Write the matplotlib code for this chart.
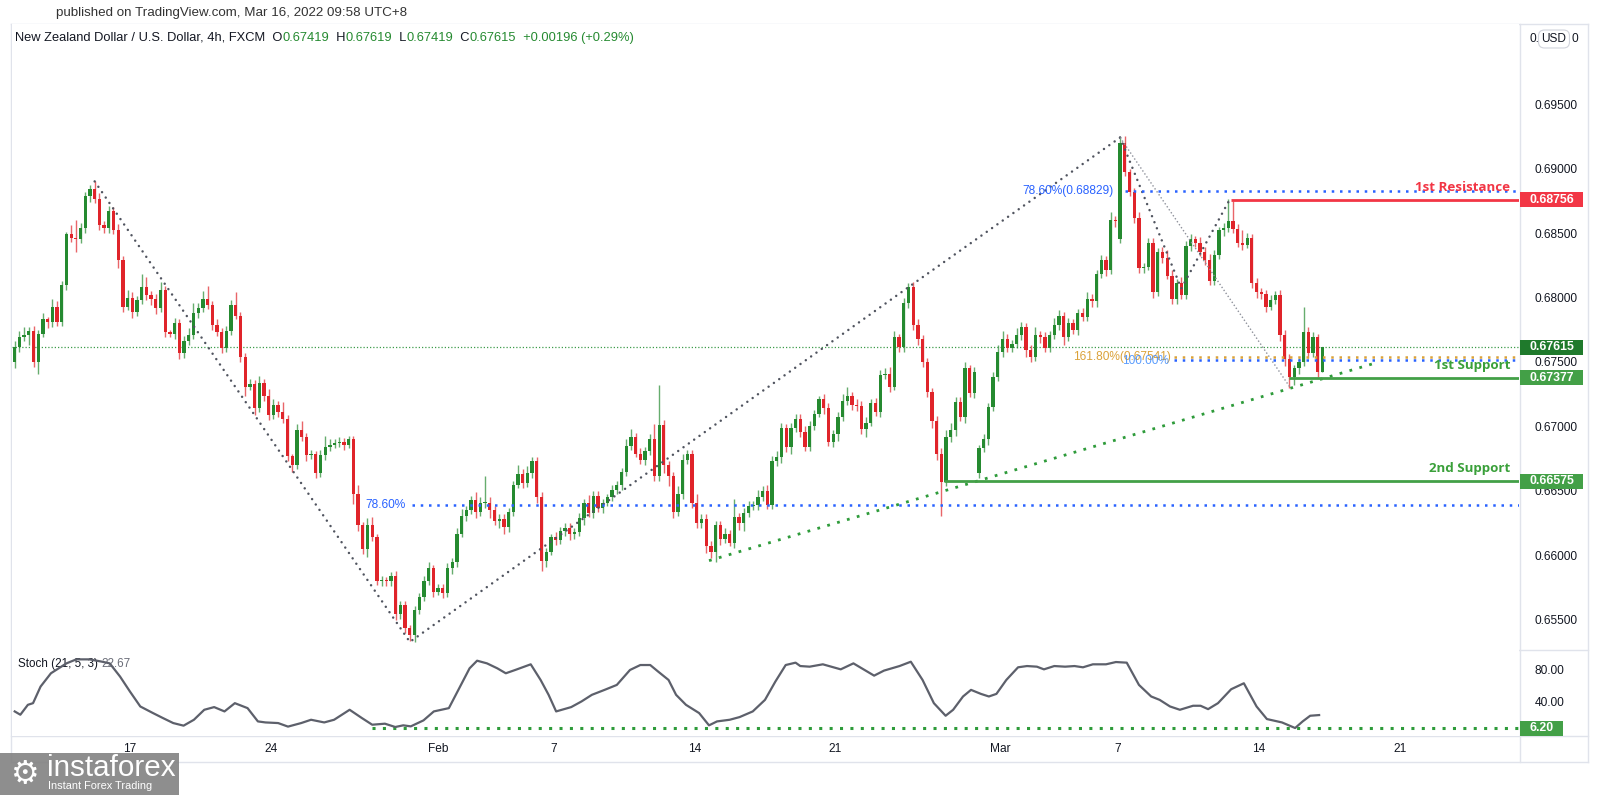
import numpy as np
import matplotlib.pyplot as plt
from matplotlib.lines import Line2D
from matplotlib.patches import Rectangle
import matplotlib.transforms as mtransforms

W, H = 1600, 795
SANS = 'Liberation Sans'
BOLD = 'Open Sans'
plt.rcParams['font.family'] = [SANS, 'DejaVu Sans']

# ---- data (4h candles, NZDUSD, FXCM) ----
closes = [
    0.6762, 0.6769, 0.6771, 0.6774, 0.6750, 0.6772, 0.6783, 0.6781, 0.6793, 0.6781,
    0.6810, 0.6849, 0.6846, 0.6845, 0.6854, 0.6879, 0.6884, 0.6876, 0.6856, 0.6854,
    0.6867, 0.6852, 0.6829, 0.6793, 0.6800, 0.6789, 0.6798, 0.6808, 0.6802, 0.6799,
    0.6792, 0.6806, 0.6773, 0.6772, 0.6780, 0.6757, 0.6766, 0.6771, 0.6788, 0.6792,
    0.6799, 0.6794, 0.6779, 0.6773, 0.6761, 0.6774, 0.6794, 0.6786, 0.6754, 0.6731,
    0.6733, 0.6714, 0.6734, 0.6724, 0.6709, 0.6717, 0.6711, 0.6706, 0.6677, 0.6670,
    0.6697, 0.6692, 0.6678, 0.6679, 0.6664, 0.6678, 0.6684, 0.6686, 0.6687, 0.6688,
    0.6686, 0.6690, 0.6648, 0.6624, 0.6605, 0.6624, 0.6614, 0.6580, 0.6581, 0.6580,
    0.6584, 0.6555, 0.6562, 0.6544, 0.6538, 0.6558, 0.6568, 0.6580, 0.6590, 0.6572,
    0.6575, 0.6571, 0.6590, 0.6595, 0.6617, 0.6631, 0.6635, 0.6643, 0.6634, 0.6641,
    0.6641, 0.6635, 0.6627, 0.6628, 0.6622, 0.6634, 0.6655, 0.6663, 0.6656, 0.6664,
    0.6673, 0.6645, 0.6596, 0.6603, 0.6614, 0.6612, 0.6619, 0.6621, 0.6617, 0.6618,
    0.6629, 0.6641, 0.6633, 0.6646, 0.6637, 0.6641, 0.6645, 0.6651, 0.6655, 0.6665,
    0.6685, 0.6692, 0.6679, 0.6674, 0.6681, 0.6690, 0.6662, 0.6701, 0.6670, 0.6662,
    0.6634, 0.6648, 0.6674, 0.6679, 0.6641, 0.6625, 0.6628, 0.6607, 0.6603, 0.6624,
    0.6613, 0.6617, 0.6610, 0.6630, 0.6625, 0.6633, 0.6638, 0.6639, 0.6645, 0.6650,
    0.6639, 0.6673, 0.6676, 0.6699, 0.6684, 0.6699, 0.6706, 0.6696, 0.6684, 0.6700,
    0.6710, 0.6721, 0.6714, 0.6688, 0.6694, 0.6707, 0.6720, 0.6724, 0.6717, 0.6716,
    0.6698, 0.6703, 0.6718, 0.6711, 0.6740, 0.6741, 0.6731, 0.6769, 0.6762, 0.6796,
    0.6808, 0.6779, 0.6768, 0.6750, 0.6727, 0.6704, 0.6679, 0.6657, 0.6692, 0.6697,
    0.6719, 0.6707, 0.6745, 0.6726, 0.6742, 0.6683, 0.6690, 0.6715, 0.6738, 0.6758,
    0.6768, 0.6761, 0.6764, 0.6771, 0.6777, 0.6759, 0.6754, 0.6771, 0.6769, 0.6761,
    0.6771, 0.6779, 0.6786, 0.6769, 0.6780, 0.6775, 0.6788, 0.6785, 0.6799, 0.6797,
    0.6818, 0.6829, 0.6821, 0.6860, 0.6859, 0.6920, 0.6897, 0.6882, 0.6862, 0.6823,
    0.6824, 0.6842, 0.6804, 0.6835, 0.6831, 0.6817, 0.6799, 0.6811, 0.6802, 0.6840,
    0.6845, 0.6842, 0.6835, 0.6829, 0.6813, 0.6833, 0.6852, 0.6854, 0.6859, 0.6853,
    0.6842, 0.6841, 0.6846, 0.6811, 0.6804, 0.6803, 0.6793, 0.6798, 0.6802, 0.6771,
    0.6752, 0.6738, 0.6745, 0.6750, 0.6773, 0.6757, 0.6769, 0.6742, 0.67615,
]
# wick lengths in pips above / below the body
up_wick = [
    4, 5, 6, 3, 4, 3, 5, 2, 6, 4,   3, 2, 7, 14, 4, 3, 3, 6, 5, 3,
    4, 3, 5, 3, 6, 4, 3, 10, 8, 3,  4, 6, 3, 2, 4, 3, 4, 5, 8, 4,
    6, 10, 3, 4, 3, 4, 4, 10, 3, 3, 4, 3, 5, 3, 5, 4, 3, 8, 3, 2,
    5, 7, 3, 3, 2, 4, 9, 4, 3, 4,   3, 3, 3, 7, 2, 5, 6, 3, 3, 2,
    3, 4, 3, 3, 2, 3, 3, 4, 5, 3,   3, 3, 4, 3, 4, 5, 3, 3, 6, 4,
    21, 4, 3, 4, 4, 3, 3, 7, 4, 5,  3, 3, 4, 3, 3, 4, 3, 4, 4, 3,
    4, 3, 6, 4, 4, 3, 3, 4, 3, 3,   5, 6, 3, 4, 3, 4, 12, 31, 4, 3,
    3, 6, 5, 3, 3, 7, 4, 4, 4, 3,   3, 4, 3, 14, 3, 4, 4, 3, 6, 4,
    5, 4, 5, 4, 3, 4, 4, 4, 4, 4,   3, 3, 4, 4, 3, 4, 5, 7, 3, 4,
    4, 4, 3, 4, 4, 4, 5, 5, 3, 4,   3, 4, 4, 3, 3, 3, 4, 4, 5, 6,
    4, 4, 5, 3, 4, 3, 4, 3, 4, 5,   6, 4, 3, 5, 4, 3, 4, 6, 3, 4,
    3, 5, 4, 3, 4, 3, 3, 4, 5, 4,   3, 4, 3, 6, 3, 4, 5, 3, 3, 4,
    3, 4, 4, 3, 4, 6, 4, 3, 5, 4,   4, 3, 5, 4, 5, 4, 3, 4, 17, 16,
    4, 10, 4, 3, 4, 3, 3, 4, 3, 4,  4, 4, 3, 3, 20, 4, 4, 3, 0,
]
low_wick = [
    5, 4, 3, 8, 4, 9, 3, 5, 4, 3,   3, 4, 3, 10, 3, 4, 5, 3, 4, 4,
    4, 3, 6, 4, 3, 5, 3, 3, 4, 5,   5, 3, 4, 3, 4, 5, 4, 3, 3, 4,
    3, 3, 4, 3, 4, 3, 3, 3, 4, 7,   3, 5, 3, 4, 4, 3, 4, 3, 4, 5,
    3, 3, 5, 3, 4, 3, 4, 3, 3, 3,   4, 3, 8, 5, 4, 6, 3, 3, 4, 4,
    4, 5, 4, 4, 4, 5, 3, 3, 3, 4,   3, 4, 3, 4, 4, 3, 4, 3, 5, 3,
    4, 6, 3, 6, 5, 4, 3, 3, 4, 3,   4, 4, 8, 5, 3, 4, 3, 4, 5, 4,
    3, 5, 3, 4, 3, 4, 3, 3, 3, 4,   3, 3, 3, 3, 4, 3, 4, 4, 6, 8,
    5, 3, 4, 3, 4, 4, 4, 5, 5, 8,   5, 3, 3, 4, 5, 6, 3, 3, 4, 3,
    3, 3, 4, 4, 4, 5, 3, 4, 3, 3,   3, 3, 4, 3, 4, 5, 3, 3, 4, 4,
    4, 6, 3, 3, 4, 3, 4, 3, 4, 4,   4, 4, 5, 4, 4, 5, 5, 26, 3, 4,
    4, 3, 4, 3, 4, 4, 3, 4, 3, 3,   4, 3, 3, 3, 4, 5, 4, 3, 4, 3,
    3, 3, 4, 6, 3, 3, 4, 3, 3, 4,   4, 3, 4, 3, 4, 3, 3, 3, 4, 4,
    4, 3, 4, 3, 4, 3, 4, 4, 3, 3,   4, 3, 3, 4, 3, 3, 3, 4, 3, 3,
    3, 4, 3, 4, 4, 4, 4, 3, 3, 5,   5, 8, 6, 4, 3, 4, 3, 4, 0,
]
gap_opens = {0: 0.6750, 205: 0.6664, 235: 0.6845}

stoch_idx = [0, 1.2, 2.8, 3.9, 5.5, 7.7, 11, 13.1, 15.9, 18.6, 20.2, 22.4, 24.5, 26.7,
             29.4, 31.5, 33.7, 35.9, 38.1, 40.3, 42.4, 44.6, 46.8, 49.5, 51.7, 53.3,
             56, 58.1, 60.9, 63, 65.8, 67.9, 71.2, 73.8, 76, 78.7, 80.9, 82.6, 84.2,
             86.9, 89.1, 92.3, 94.5, 96.7, 98.3, 100.4, 102.6, 104.4, 106.4, 109.7,
             111.8, 113.5, 115.1, 118.3, 120.5, 122.7, 125.4, 128, 130.8, 133, 135.1,
             136.8, 139, 140.6, 142.7, 145.5, 147.6, 149.3, 152, 154.1, 156.9, 159.5,
             161.7, 163.9, 166, 167, 169, 171.8, 175.6, 178.3, 182.7, 184.8, 188.1,
             190.5, 193, 195.4, 197.9, 199.5, 201.6, 203.3, 205.4, 207.1, 208.7,
             210.8, 213.3, 215.2, 217.3, 218.8, 221, 223.3, 225.3, 227.1, 229.2, 232,
             234.1, 236.4, 239, 241.6, 243.4, 245.6, 247.7, 250.5, 252.1, 253.7,
             255.8, 258.6, 261.3, 264, 266.2, 269.4, 272.2, 273.8, 275.4, 277.3]
stoch_val = [27.3, 23.1, 35.7, 37.8, 58.9, 75.8, 88.4, 93.5, 93.5, 90.5, 88.4, 71.6, 52.6,
             33.6, 25.2, 18.9, 12.5, 9.2, 16.7, 29.4, 32.8, 27.3, 37.8, 31.5, 14.6, 13.3,
             12.5, 8.0, 12.5, 16.7, 13.3, 16.7, 29.4, 18.9, 10.4, 11.7, 7.5, 9.6, 8.3,
             15.9, 27.3, 31.5, 56.8, 82.1, 91.8, 88.4, 82.1, 75.8, 80.0, 87.2,
             67.3, 48.4, 27.3, 32.8, 40.0, 48.4, 54.7, 61.0, 80.0, 86.3, 86.3,
             77.9, 67.3, 48.4, 35.7, 25.2, 9.6, 14.6, 16.7, 20.1, 27.3, 42.0,
             65.2, 86.3, 89.3, 85.0, 84.2, 87.2, 80.8, 88.4, 72.8, 79.2, 85.0,
             90.5, 67.3, 37.8, 21.8, 29.4, 46.3, 54.7, 49.6, 46.3, 49.6,
             67.3, 83.4, 85.0, 84.2, 80.8, 85.0, 84.2, 85.0, 83.4, 87.2, 87.2,
             90.1, 89.3, 61.0, 46.3, 42.0, 33.6, 29.4, 34.5, 34.5, 30.2,
             37.8, 55.5, 63.1, 33.6, 17.6, 13.3, 6.2, 14.6, 21.8, 22.67]

tick_pos = [24.5, 54.5, 90, 114.5, 144.5, 174.5, 209.5, 234.5, 264.5, 294.5]
tick_lab = ['17', '24', 'Feb', '7', '14', '21', 'Mar', '7', '14', '21']
price_ticks = [0.655, 0.660, 0.665, 0.670, 0.675, 0.680, 0.685, 0.690, 0.695]

# drawings: zigzag swing lines, fib levels, support / resistance
zigzag_idx = [17, 84, 190, 235]
zigzag_px = [0.6890, 0.6533, 0.6808, 0.6924]
abcd_idx = [235, 248, 258]
abcd_px = [0.6924, 0.6807, 0.6874]
leg_idx = [235, 271]
leg_px = [0.6924, 0.6731]
trend_idx = [147.6, 290]
trend_px = [0.6596, 0.6750]

last_price = 0.67615
resistance1 = 0.68756
support1 = 0.67377
support2 = 0.66575
fib_786_low = 0.6639
fib_786_high = 0.68829
fib_1618 = 0.67541
fib_100 = 0.67516
stoch_level = 6.20

GREEN = '#258a30'
RED = '#e0242a'
TAG_RED = '#f23645'
TAG_GREEN = '#43a047'
TAG_DGREEN = '#1f7a2c'
BLUE = '#2962ff'
ORANGE = '#dba23a'
FRAME = '#e0e3eb'
TXT = '#131722'


def fx(x):
    return x / W


def fy(y):
    return 1 - y / H


def idx_at(px):
    return (px - 14.7) / 4.704


fig = plt.figure(figsize=(W / 100, H / 100), dpi=100)
fig.patch.set_facecolor('white')
X0, X1 = 12, 1519
ax = fig.add_axes([fx(X0), fy(650), (X1 - X0) / W, (650 - 24) / H])
sax = fig.add_axes([fx(X0), fy(736), (X1 - X0) / W, (736 - 650) / H])
for a in (ax, sax):
    a.set_xlim(idx_at(X0), idx_at(X1))
    for s in a.spines.values():
        s.set_visible(False)
    a.yaxis.tick_right()
    a.tick_params(axis='y', length=0, pad=11, labelsize=8.6, labelcolor=TXT)
ax.set_ylim(0.652674, 0.701202)
sax.set_ylim(-3.95, 105.4)
ax.set_xticks([])
ax.set_yticks(price_ticks)
ax.set_yticklabels([f'{p:.5f}' for p in price_ticks])
sax.set_yticks([40, 80])
sax.set_yticklabels(['40.00', '80.00'])
sax.set_xticks(tick_pos)
sax.set_xticklabels(tick_lab)
sax.tick_params(axis='x', length=0, pad=5, labelsize=8.6, labelcolor=TXT)

# candles
c = np.array(closes)
x = np.arange(len(c))
o = np.r_[c[0], c[:-1]]
for i, v in gap_opens.items():
    o[i] = v
hi = np.maximum(o, c) + np.array(up_wick) * 1e-4
lo = np.minimum(o, c) - np.array(low_wick) * 1e-4
col = np.where(c >= o, GREEN, RED)
ax.vlines(x, lo, hi, colors=col, lw=1, alpha=0.7, zorder=3)
ax.bar(x, np.maximum(np.abs(c - o), 0.00005), bottom=np.minimum(o, c), width=0.7,
       color=col, lw=0, zorder=4)

right = idx_at(X1)
ax.axhline(last_price, color='#3d9c4a', lw=0.9, ls=(0, (1, 1.6)), zorder=2)
dots = dict(lw=1.8, ls=(0, (0.01, 2.6)), dash_capstyle='round', zorder=5)
ax.plot(zigzag_idx, zigzag_px, color='#50545f', **dots)
ax.plot(abcd_idx, abcd_px, color='#50545f', **dots)
ax.plot(leg_idx, leg_px, color='#8d909a', lw=1, ls=(0, (1, 1.6)), zorder=5)
ax.plot(trend_idx, trend_px, color='#2e9b3a', lw=2, ls=(0, (1, 2.7)), zorder=5)

fibline = dict(lw=1.8, ls=(0, (1, 2.3)), zorder=5)
ax.hlines(fib_786_low, 84.5, right, color=BLUE, **fibline)
ax.hlines(fib_786_high, 236, right, color=BLUE, **fibline)
ax.hlines(fib_1618, 246.5, right, color=ORANGE, **fibline)
ax.hlines(fib_100, 246.5, right, color=BLUE, **fibline)
ax.hlines(resistance1, 258.5, right, color=TAG_RED, lw=2, zorder=6)
ax.hlines(support1, 271, right, color=TAG_GREEN, lw=2, zorder=6)
ax.hlines(support2, 197.6, right, color=TAG_GREEN, lw=2, zorder=6)

fibfont = dict(fontsize=8.6, va='center', ha='right', zorder=7, family=SANS)
ax.text(83, fib_786_low, '78.60%', color=BLUE, **fibfont)
ax.text(233.6, fib_786_high, '78.60%(0.68829)', color=BLUE, **fibfont)
ax.text(245.8, fib_1618, '161.80%(0.67541)', color=ORANGE, **fibfont)
ax.text(245.3, fib_100 - 0.0001, '100.00%', color='#3d8bfd', alpha=0.85, **fibfont)

lab = dict(fontsize=9.6, fontweight='bold', ha='right', va='center', family=BOLD, zorder=8)
ax.text(317.9, 0.68856, '1st Resistance', color=TAG_RED, **lab)
ax.text(317.9, 0.67469, '1st Support', color='#3aa03a', **lab)
ax.text(317.9, 0.66671, '2nd Support', color='#3aa03a', **lab)

# stochastic pane
sax.plot(stoch_idx, stoch_val, color='#5d606b', lw=1.6, zorder=4)
sax.hlines(stoch_level, idx_at(372), right, color='#2e9b3a', lw=2.2, ls=(0, (1, 2.4)), zorder=3)
st = sax.annotate('Stoch (21, 5, 3) ', xy=(fx(18), fy(664)), xycoords='figure fraction',
                  va='center', ha='left', color=TXT, fontsize=8.3)
st2 = sax.annotate('22.67', xy=(1, 0), xycoords=st, va='bottom', ha='left',
                   color='#6a6d78', fontsize=8.3)


def tag(a, val, text, color, unit_per_px, width=63):
    tr = mtransforms.blended_transform_factory(a.transAxes, a.transData)
    axw = X1 - X0
    a.add_patch(Rectangle((1.0 + 1 / axw, val - 7.5 * unit_per_px), width / axw, 15 * unit_per_px,
                          transform=tr, fc=color, ec='none', clip_on=False, zorder=20))
    a.text(1.0 + (1 + width / 2) / axw, val, text, transform=tr, ha='center', va='center',
           color='white', fontsize=8.8, fontweight='bold', family=SANS, clip_on=False, zorder=21)


ppx = 0.005 / 64.5
tag(ax, resistance1, '0.68756', TAG_RED, ppx)
tag(ax, last_price, '0.67615', TAG_DGREEN, ppx)
tag(ax, support1, '0.67377', TAG_GREEN, ppx)
tag(ax, support2, '0.66575', TAG_GREEN, ppx)
tag(sax, stoch_level, '6.20', TAG_GREEN, 1.272, width=43)

# header texts
pub = fig.text(fx(56), fy(13), 'published on TradingView.com, Mar 16, 2022 09:58 UTC+8',
               color='#333333', va='center', fontsize=9.4)
pieces = [('New Zealand Dollar / U.S. Dollar, 4h, FXCM  O', TXT), ('0.67419', GREEN),
          ('  H', TXT), ('0.67619', GREEN), ('  L', TXT), ('0.67419', GREEN),
          ('  C', TXT), ('0.67615', GREEN), ('  +0.00196 (+0.29%)', GREEN)]
head = [ax.annotate(pieces[0][0], xy=(fx(15), fy(38)), xycoords='figure fraction',
                    va='center', ha='left', color=pieces[0][1], fontsize=9.2)]
for s, cl in pieces[1:]:
    head.append(ax.annotate(s, xy=(1, 0), xycoords=head[-1], va='bottom', ha='left',
                            color=cl, fontsize=9.2))

fig.text(fx(1529), fy(39), '0.', fontsize=8.6, color=TXT, va='center')
fig.text(fx(1554), fy(39), 'USD', fontsize=8.6, color=TXT, va='center', ha='center',
         bbox=dict(boxstyle='round,pad=0.25,rounding_size=0.5', fc='white', ec='#d1d4dc', lw=0.8))
fig.text(fx(1571), fy(39), '0', fontsize=8.6, color=TXT, va='center')

# frame
for (x1, y1, x2, y2) in [(11, 24, 1588, 24), (11, 24, 11, 762), (1588, 24, 1588, 762),
                         (11, 762, 1588, 762), (1520, 24, 1520, 762),
                         (11, 650, 1588, 650), (11, 736, 1588, 736)]:
    fig.add_artist(Line2D([fx(x1), fx(x2)], [fy(y1), fy(y2)], transform=fig.transFigure,
                          color=FRAME, lw=1, zorder=0))

# instaforex badge
fig.add_artist(Rectangle((0, 0), fx(179), 42 / H, transform=fig.transFigure,
                         fc='#858585', ec='none', alpha=0.93, zorder=30))
fig.text(fx(25), fy(774), '\u2699', fontsize=23, color='white', ha='center', va='center',
         family='DejaVu Sans', zorder=31)
brand = fig.text(fx(47), fy(768), 'instaforex', color='white', ha='left',
                 va='center', fontsize=20, zorder=31)
slog = fig.text(fx(48), fy(786), 'Instant Forex Trading', color='white',
                ha='left', va='center', fontsize=8.5, zorder=31)

# bring the legend texts to the widths measured on the reference
fig.canvas.draw()
rend = fig.canvas.get_renderer()


def fit(group, target):
    w = group[-1].get_window_extent(rend).x1 - group[0].get_window_extent(rend).x0
    k = target / w
    for t in group:
        t.set_fontsize(t.get_fontsize() * k)


fit(head, 614)
fit([pub], 352)
fit([st, st2], 112)
fit([brand], 128)
fit([slog], 104)

fig.savefig('out.png', dpi=100, facecolor='white')
